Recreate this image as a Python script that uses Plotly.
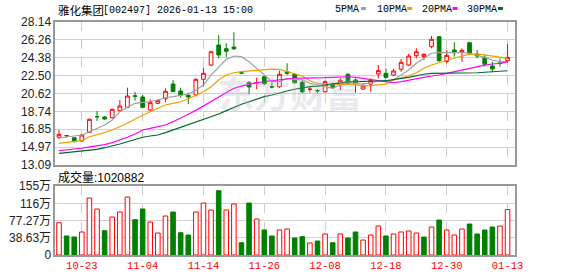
import plotly.graph_objects as go

dates = ["10-20","10-21","10-22","10-23","10-24","10-27","10-28","10-29","10-30","10-31",
         "11-03","11-04","11-05","11-06","11-07","11-10","11-11","11-12","11-13","11-14",
         "11-17","11-18","11-19","11-20","11-21","11-24","11-25","11-26","11-27","11-28",
         "12-01","12-02","12-03","12-04","12-05","12-08","12-09","12-10","12-11","12-12",
         "12-15","12-16","12-17","12-18","12-19","12-22","12-23","12-24","12-25","12-26",
         "12-29","12-30","12-31","01-05","01-06","01-07","01-08","01-09","01-12","01-13"]

open_ = [16.01,16.19,15.96,15.62,16.53,18.19,18.14,18.07,18.81,19.16,
         20.37,20.25,18.88,19.58,20.07,21.61,20.88,20.43,20.46,22.11,
         23.61,25.72,25.33,25.51,22.79,21.75,21.74,22.38,21.32,21.33,
         22.91,22.64,21.79,21.05,20.92,20.80,21.65,21.51,22.64,22.04,
         21.09,21.61,22.67,22.74,22.56,23.16,23.61,24.59,24.49,25.54,
         26.59,23.98,25.19,24.95,25.96,24.77,24.42,23.51,23.81,24.07]
high = [16.77,16.25,16.00,16.35,18.00,18.77,18.25,19.00,19.93,21.23,
        20.80,20.46,20.00,20.00,21.16,22.04,21.23,20.70,22.20,23.33,
        25.10,26.77,25.90,27.06,23.00,21.93,22.28,22.50,21.80,23.00,
        23.79,22.75,21.96,21.33,21.09,22.00,21.75,22.21,22.75,22.21,
        21.70,22.21,23.61,23.27,23.20,24.25,24.80,25.37,24.85,26.67,
        26.67,25.19,26.00,25.37,26.07,25.19,24.74,23.96,24.32,25.82]
low = [15.83,16.04,15.44,15.52,16.45,17.72,17.85,18.00,18.70,19.10,
       19.86,19.06,18.77,19.50,19.69,20.75,20.17,19.51,20.30,21.33,
       23.50,24.32,24.43,25.19,22.64,20.54,21.06,21.50,21.16,21.20,
       22.56,21.65,20.64,20.70,20.64,20.70,21.09,20.98,21.58,20.70,
       21.00,20.80,22.21,22.21,22.45,22.91,23.50,24.32,24.14,25.37,
       23.96,23.79,24.49,23.96,24.67,24.32,23.44,22.85,23.44,23.86]
close = [16.32,16.17,15.62,16.25,17.90,18.17,17.93,18.95,19.30,20.35,
         20.33,19.16,19.65,19.86,20.85,20.82,20.46,20.25,22.11,22.74,
         25.01,24.67,25.06,25.33,22.77,21.30,21.76,21.65,21.30,22.64,
         22.74,21.75,20.80,21.07,20.90,21.86,21.23,22.00,21.69,21.61,
         21.40,22.00,23.02,22.32,22.98,23.90,24.56,25.01,24.74,26.32,
         24.07,24.63,24.91,25.16,24.85,24.56,23.69,23.19,23.79,24.42]

ma5 = [15.93,16.04,16.14,16.25,16.59,16.95,17.30,17.83,18.70,19.16,
       19.58,19.69,19.75,19.93,20.17,20.28,20.43,20.56,20.95,21.51,
       22.56,23.44,24.21,24.56,24.49,23.96,23.27,22.56,21.86,21.86,
       22.21,22.11,22.04,21.69,21.51,21.33,21.16,21.51,21.75,21.69,
       21.61,21.75,21.93,21.86,22.04,22.56,23.09,23.79,24.32,24.85,
       24.95,24.95,24.95,24.91,24.85,24.67,24.42,24.14,23.96,23.95]
ma10 = [15.37,15.46,15.54,15.65,16.07,16.25,16.49,16.77,17.12,17.48,
        17.93,18.35,18.70,19.06,19.41,19.58,19.75,20.04,20.40,20.80,
        21.33,22.04,22.56,22.80,22.91,22.98,23.09,23.16,23.19,23.16,
        22.91,22.74,22.46,21.95,21.69,21.61,21.58,21.58,21.61,21.51,
        21.44,21.44,21.51,21.61,22.04,22.21,22.46,22.80,23.27,23.61,
        23.86,24.14,24.32,24.56,24.74,24.77,24.67,24.56,24.42,24.32]
ma20 = [14.60,14.67,14.74,14.85,14.99,15.09,15.23,15.44,15.69,16.01,
        16.35,16.77,16.95,17.09,17.30,17.65,18.01,18.43,18.84,19.30,
        19.75,20.22,20.70,21.16,21.40,21.61,21.75,21.86,21.96,22.11,
        22.14,22.21,22.21,22.21,22.21,22.28,22.32,22.38,22.38,22.32,
        22.21,22.04,21.93,21.86,21.75,21.86,22.04,22.21,22.32,22.46,
        22.56,22.74,22.91,23.16,23.27,23.44,23.61,23.72,23.79,23.96]
ma30 = [14.32,14.39,14.46,14.56,14.64,14.74,14.91,15.09,15.30,15.54,
        15.80,16.01,16.14,16.25,16.49,16.77,17.02,17.30,17.58,17.83,
        18.17,18.46,18.81,19.16,19.48,19.75,20.04,20.28,20.46,20.70,
        20.88,21.06,21.23,21.33,21.40,21.51,21.69,21.75,21.83,21.86,
        21.86,21.93,21.93,21.96,22.11,22.21,22.32,22.49,22.64,22.74,
        22.74,22.74,22.77,22.77,22.80,22.80,22.85,22.91,23.01,23.01]

volume = [72.5,42.7,40.4,51.7,128.0,103.3,54.6,85.3,96.6,130.3,
          79.3,103.3,74.1,49.4,87.6,96.6,50.1,44.9,96.6,116.8,
          101.0,144.4,101.0,114.5,27.6,116.8,80.9,56.2,42.7,56.2,
          58.4,38.2,41.2,27.0,31.4,47.2,27.6,47.2,38.2,51.7,
          33.7,44.9,65.1,42.7,47.2,51.7,53.9,49.4,40.4,62.9,
          78.6,56.2,44.9,58.4,69.6,47.2,56.2,62.9,65.1,102.09]
vol_up = [1,0,0,1,1,1,0,1,1,1, 0,0,1,1,1,0,0,0,1,1,
          1,0,1,1,0,0,1,0,0,1, 1,0,0,1,0,1,0,1,0,0,
          1,1,1,0,1,1,1,1,0,1, 0,1,1,1,0,0,0,0,1,1]

price_ticks = [13.09,14.97,16.85,18.74,20.62,22.50,24.38,26.26,28.14]
vol_ticks = [0,38.63,77.27,116,155]
vol_tick_text = ["0","38.63万","77.27万","116万","155万"]
x_ticks = ["10-23","11-04","11-14","11-26","12-08","12-18","12-30","01-13"]
title_name = "雅化集团"
title_rest = "[002497] 2026-01-13 15:00"
vol_label = "成交量:1020882"
legend_names = ["5PMA","10PMA","20PMA","30PMA"]
watermark = "东方财富"

RED = "#ff0000"
GREEN = "#008000"
ma_colors = ["#a0a0a0", "#f0a000", "#ff00ff", "#006a2a"]

W, H = 578, 276
def X(px): return px / W
def Y(py): return 1 - py / H

fig = go.Figure()
fig.add_trace(go.Candlestick(
    x=dates, open=open_, high=high, low=low, close=close,
    increasing=dict(line=dict(color=RED, width=1), fillcolor="#ffffff"),
    decreasing=dict(line=dict(color=GREEN, width=1), fillcolor=GREEN),
    whiskerwidth=0, xaxis="x", yaxis="y", showlegend=False, hoverinfo="skip"))
for vals, col in zip([ma5, ma10, ma20, ma30], ma_colors):
    fig.add_trace(go.Scatter(x=dates, y=vals, mode="lines",
                             line=dict(color=col, width=1.2),
                             xaxis="x", yaxis="y", showlegend=False, hoverinfo="skip"))

fig.add_trace(go.Bar(
    x=dates, y=volume, width=0.6,
    marker=dict(color=["#ffffff" if u else GREEN for u in vol_up],
                line=dict(color=[RED if u else GREEN for u in vol_up], width=1)),
    xaxis="x2", yaxis="y2", showlegend=False, hoverinfo="skip"))

tick_font = dict(family="Liberation Sans, Arial, sans-serif", size=12, color="#222")
xcommon = dict(type="category", range=[-0.5, 59.95], categoryorder="array",
               categoryarray=dates, tickmode="array", tickvals=x_ticks,
               showgrid=True, gridcolor="#cccccc", griddash="dash", gridwidth=1,
               showline=True, linecolor="#999999", linewidth=1.5, mirror=True,
               zeroline=False, ticks="", fixedrange=True)
fig.update_layout(
    width=W, height=H, margin=dict(l=0, r=0, t=0, b=0),
    paper_bgcolor="#ffffff", plot_bgcolor="#ffffff",
    xaxis=dict(domain=[X(56), X(522)], anchor="y", showticklabels=False,
               rangeslider=dict(visible=False), **xcommon),
    yaxis=dict(domain=[Y(165), Y(22)], anchor="x", range=[13.09, 28.14],
               tickmode="array", tickvals=price_ticks,
               ticktext=[f"{v:.2f}" for v in price_ticks],
               showgrid=True, gridcolor="#d0d0d0", gridwidth=1,
               showline=True, linecolor="#999999", linewidth=1.5, mirror=True,
               zeroline=False, tickfont=tick_font, ticks="", automargin=False,
               fixedrange=True),
    xaxis2=dict(domain=[X(56), X(522)], anchor="y2", showticklabels=True,
                tickfont=dict(family="Liberation Mono, monospace", size=10.5, color=RED),
                **xcommon),
    yaxis2=dict(domain=[Y(255), Y(186)], anchor="x2", range=[0, 155],
                tickmode="array", tickvals=vol_ticks, ticktext=vol_tick_text,
                showgrid=True, gridcolor="#d0d0d0", gridwidth=1,
                showline=True, linecolor="#999999", linewidth=1.5, mirror=True,
                zeroline=False, tickfont=dict(family="Liberation Sans, Noto Sans CJK SC, sans-serif", size=12, color="#222"),
                ticks="", automargin=False, fixedrange=True),
    bargap=0.4,
)

ann = []
ann.append(dict(x=X(294), y=Y(92), xref="paper", yref="paper", xanchor="center", yanchor="middle",
                text="<b>" + watermark + "</b>",
                showarrow=False, font=dict(family="Noto Sans CJK SC", size=36,
                color="rgba(180,180,196,0.30)")))
ann.append(dict(x=X(57), y=Y(10), xref="paper", yref="paper", xanchor="left", yanchor="middle",
                text=title_name, showarrow=False,
                font=dict(family="Noto Sans CJK SC", size=11.5, color="#000")))
ann.append(dict(x=X(102), y=Y(10), xref="paper", yref="paper", xanchor="left", yanchor="middle",
                text=title_rest, showarrow=False,
                font=dict(family="Liberation Mono, monospace", size=10, color="#000")))
ann.append(dict(x=X(57), y=Y(177), xref="paper", yref="paper", xanchor="left", yanchor="middle",
                text=vol_label, showarrow=False,
                font=dict(family="Liberation Sans, Noto Sans CJK SC", size=12, color="#000")))
legend_x = [338, 380, 426, 472]
square_x = [366, 413, 459, 505]
shapes = []
for name, lx, sx, col in zip(legend_names, legend_x, square_x, ma_colors):
    ann.append(dict(x=X(lx), y=Y(9), xref="paper", yref="paper", xanchor="left", yanchor="middle",
                    text=name, showarrow=False,
                    font=dict(family="Liberation Mono, monospace", size=10, color="#000")))
    shapes.append(dict(type="rect", xref="paper", yref="paper",
                       x0=X(sx), x1=X(sx + 5), y0=Y(10), y1=Y(7),
                       fillcolor=col, line=dict(width=0)))
fig.update_layout(annotations=ann, shapes=shapes)

fig.write_html("out.html")
